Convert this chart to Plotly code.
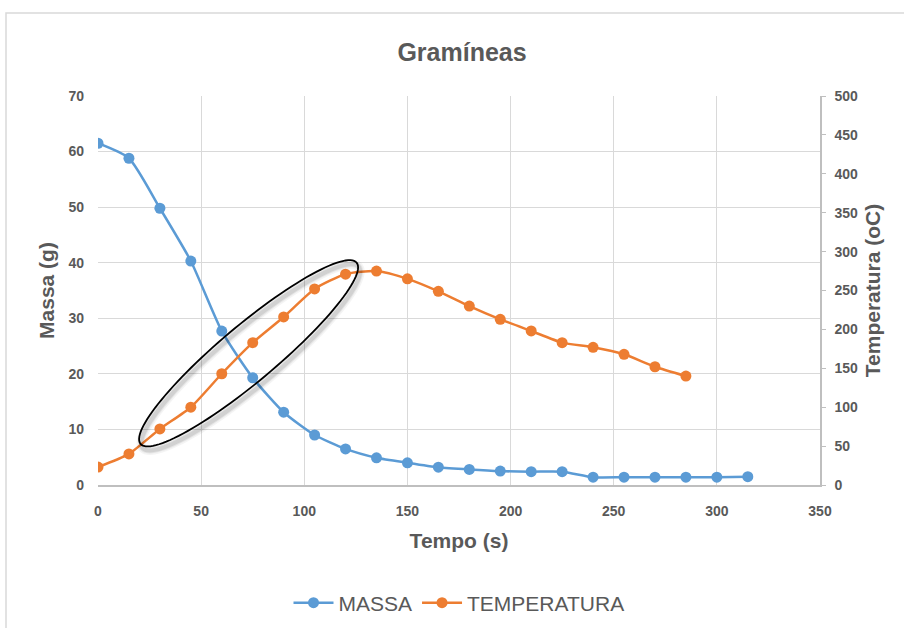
import numpy as np
import plotly.graph_objects as go

tempo_massa = [0, 15, 30, 45, 60, 75, 90, 105, 120, 135, 150, 165, 180, 195, 210, 225, 240, 255, 270, 285, 300, 315]
massa = [61.5, 58.8, 49.8, 40.3, 27.7, 19.3, 13.1, 9.0, 6.5, 4.9, 4.0, 3.2, 2.8, 2.5, 2.4, 2.4, 1.4, 1.4, 1.4, 1.4, 1.4, 1.5]

tempo_temp = [0, 15, 30, 45, 60, 75, 90, 105, 120, 135, 150, 165, 180, 195, 210, 225, 240, 255, 270, 285]
temperatura = [23, 40, 72, 100, 143, 183, 216, 252, 271, 275, 265, 249, 230, 213, 198, 183, 177, 168, 152, 140]

BLUE = "#5B9BD5"
ORANGE = "#ED7D31"
GRAY = "#595959"
GRID = "#D9D9D9"
FONT = "Liberation Sans"

fig = go.Figure()
fig.add_trace(go.Scatter(
    x=tempo_massa, y=massa, name="MASSA", mode="lines+markers",
    line=dict(color=BLUE, width=2.5, shape="spline", smoothing=0.6),
    marker=dict(color=BLUE, size=11), yaxis="y"))
fig.add_trace(go.Scatter(
    x=tempo_temp, y=temperatura, name="TEMPERATURA", mode="lines+markers",
    line=dict(color=ORANGE, width=2.5, shape="spline", smoothing=0.6),
    marker=dict(color=ORANGE, size=11), yaxis="y2"))

# ellipse annotation (center in data units, axes in screen pixels)
W, H = 904, 628
ml, mr, mt, mb = 98, 84, 96, 143
pw, ph = W - ml - mr, H - mt - mb
sx = pw / 350.0
sy = ph / 70.0
cx, cy = 73.0, 23.7
a_px, b_px, theta = 141.0, 28.0, np.deg2rad(40.0)
t = np.linspace(0, 2 * np.pi, 120)
dx = a_px * np.cos(t) * np.cos(theta) - b_px * np.sin(t) * np.sin(theta)
dy = a_px * np.cos(t) * np.sin(theta) + b_px * np.sin(t) * np.cos(theta)

def ell_path(ox=0.0, oy=0.0):
    xs = cx + (dx + ox) / sx
    ys = cy + (dy - oy) / sy
    return "M " + " L ".join(f"{x:.3f},{y:.3f}" for x, y in zip(xs, ys)) + " Z"

shapes = []
for w, op in [(9, 0.04), (6, 0.06), (4, 0.08)]:
    shapes.append(dict(type="path", xref="x", yref="y", path=ell_path(2, 4),
                       line=dict(color="black", width=w), opacity=op, layer="above"))
shapes.append(dict(type="path", xref="x", yref="y", path=ell_path(),
                   line=dict(color="black", width=1.8), layer="above"))
# outer chart border
shapes.append(dict(type="rect", xref="paper", yref="paper",
                   x0=(6 - ml) / pw, x1=(W + 20 - ml) / pw,
                   y0=(H - mb - (H + 20)) / ph, y1=(H - mb - 13) / ph,
                   line=dict(color="#D9D9D9", width=1.5), layer="below"))

fig.update_layout(
    width=W, height=H,
    margin=dict(l=ml, r=mr, t=mt, b=mb, autoexpand=False),
    paper_bgcolor="white", plot_bgcolor="white",
    title=dict(text="<b>Gramíneas</b>", x=462 / W, xanchor="center",
               y=1 - 52 / H, yanchor="middle",
               font=dict(family=FONT, size=25, color=GRAY)),
    font=dict(family=FONT, color=GRAY),
    xaxis=dict(range=[0, 350], tickvals=[0, 50, 100, 150, 200, 250, 300, 350],
               showgrid=True, gridcolor=GRID, gridwidth=1,
               zeroline=False, showline=True, linecolor="#BFBFBF", linewidth=1.5,
               ticks="", ticklabelstandoff=12,
               tickfont=dict(family=FONT, size=14, color=GRAY, weight="bold"),
               title=dict(text="<b>Tempo (s)</b>", font=dict(family=FONT, size=21, color=GRAY), standoff=16)),
    yaxis=dict(range=[0, 70], tickvals=[0, 10, 20, 30, 40, 50, 60, 70],
               showgrid=True, gridcolor=GRID, gridwidth=1, zeroline=False,
               showline=False, ticks="", ticklabelstandoff=13,
               tickfont=dict(family=FONT, size=14, color=GRAY, weight="bold"),
               title=dict(text="<b>Massa (g)</b>", font=dict(family=FONT, size=21, color=GRAY), standoff=8)),
    yaxis2=dict(range=[0, 500], tickvals=list(range(0, 501, 50)), overlaying="y", side="right",
                showgrid=False, zeroline=False, showline=True, linecolor="#BFBFBF", linewidth=1.5,
                ticks="outside", ticklen=4, tickcolor="#BFBFBF", ticklabelstandoff=6,
                tickfont=dict(family=FONT, size=14, color=GRAY, weight="bold"),
                title=dict(text="<b>Temperatura (oC)</b>", font=dict(family=FONT, size=21, color=GRAY), standoff=8)),
    legend=dict(orientation="h", x=0.5, xanchor="center",
                y=-(603 - (H - mb)) / ph, yanchor="middle",
                font=dict(family=FONT, size=21, color=GRAY), itemwidth=40),
    shapes=shapes,
    showlegend=True,
)

fig.write_html("out.html")
